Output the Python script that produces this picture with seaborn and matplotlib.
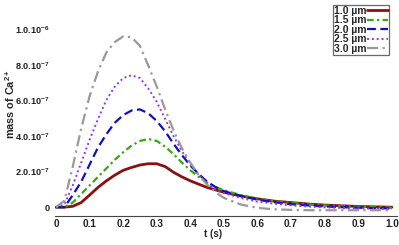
import numpy as np
import pandas as pd
import matplotlib
matplotlib.use("Agg")
import matplotlib.pyplot as plt
import seaborn as sns

# time points (s) and Ca2+ mass in units of 1e-7
t = [0, 0.025, 0.05, 0.075, 0.1, 0.125, 0.15, 0.175, 0.2, 0.225, 0.25, 0.275,
     0.3, 0.325, 0.35, 0.375, 0.4, 0.425, 0.45, 0.475, 0.5,
     0.55, 0.6, 0.65, 0.7, 0.75, 0.8, 0.85, 0.9, 0.95, 1.0]
m_10 = [0, 0, 0.05, 0.26, 0.68, 1.11, 1.48, 1.8, 2.07, 2.23, 2.37, 2.44,
        2.44, 2.28, 1.96, 1.7, 1.48, 1.29, 1.11, 0.97, 0.84,
        0.63, 0.47, 0.34, 0.26, 0.18, 0.12, 0.08, 0.04, 0.02, 0.0]
m_15 = [0, 0, 0.26, 0.74, 1.22, 1.7, 2.18, 2.66, 3.08, 3.46, 3.72, 3.83,
        3.72, 3.4, 2.98, 2.5, 2.07, 1.7, 1.38, 1.13, 0.95,
        0.68, 0.47, 0.34, 0.24, 0.16, 0.1, 0.05, 0.02, 0.0, -0.03]
m_20 = [0, 0, 0.68, 1.43, 2.39, 3.35, 4.1, 4.74, 5.17, 5.43, 5.49, 5.27,
        4.84, 4.26, 3.56, 2.92, 2.34, 1.86, 1.43, 1.13, 0.9,
        0.63, 0.42, 0.28, 0.17, 0.1, 0.04, 0.0, -0.03, -0.05, -0.07]
m_25 = [0, 0.15, 1.22, 2.5, 3.78, 4.95, 6.02, 6.77, 7.25, 7.41, 7.25, 6.66,
        5.91, 4.95, 3.99, 3.14, 2.39, 1.8, 1.32, 1.0, 0.79,
        0.52, 0.31, 0.2, 0.1, 0.04, -0.01, -0.04, -0.06, -0.08, -0.1]
m_30 = [0, 0.36, 2.28, 4.42, 6.23, 7.62, 8.69, 9.27, 9.59, 9.54, 9.06, 7.94,
        6.77, 5.49, 4.31, 3.3, 2.5, 1.8, 1.27, 0.84, 0.52,
        0.15, -0.04, -0.12, -0.15, -0.17, -0.17, -0.17, -0.17, -0.17, -0.17]

labels = ["1.0 µm", "1.5 µm", "2.0 µm", "2.5 µm", "3.0 µm"]
series = [m_10, m_15, m_20, m_25, m_30]
colors = ["#8b1010", "#33aa11", "#1010c0", "#9933ee", "#999999"]
styles = ["-", (0, (3, 1.5, 1, 1.5)), (0, (4, 2)), (0, (1, 1.5)), (0, (5, 2, 1, 2))]
widths = [2.0, 1.6, 1.6, 1.4, 1.6]

ytick_vals = [0, 2e-7, 4e-7, 6e-7, 8e-7, 1e-6]
ytick_labels = ["0", "2.0.10$^{-7}$", "4.0.10$^{-7}$", "6.0.10$^{-7}$",
                "8.0.10$^{-7}$", "1.0.10$^{-6}$"]
xticks = [0, 0.1, 0.2, 0.3, 0.4, 0.5, 0.6, 0.7, 0.8, 0.9, 1.0]

sns.set_style("white")
plt.rcParams["font.family"] = ["Liberation Sans", "DejaVu Sans"]
plt.rcParams["mathtext.fontset"] = "custom"
plt.rcParams["mathtext.bf"] = "Liberation Sans:bold"
plt.rcParams["mathtext.rm"] = "Liberation Sans:bold"
plt.rcParams["mathtext.default"] = "bf"

fig = plt.figure(figsize=(3.99, 2.45), dpi=100)
ax = fig.add_axes([0.1378, 0.118, 0.857, 0.833])

for lab, vals, c, ls, lw in zip(labels, series, colors, styles, widths):
    df = pd.DataFrame({"t": t, "m": np.array(vals) * 1e-7})
    sns.lineplot(data=df, x="t", y="m", ax=ax, color=c, linestyle=ls,
                 linewidth=lw, label=lab)

ax.set_xlim(-0.003, 1.015)
ax.set_ylim(-0.5e-7, 10.96e-7)
ax.set_xticks(xticks)
ax.set_xticklabels(["0"] + [f"{v:.1f}" for v in xticks[1:]],
                   fontsize=7.2, fontweight="bold")
ax.set_yticks(ytick_vals)
ax.set_yticklabels(ytick_labels, fontsize=6.6, fontweight="bold")
ax.tick_params(axis="x", direction="in", length=2, width=0.8, pad=2, colors="#222222")
ax.tick_params(axis="y", direction="out", length=3, width=0.8, pad=1, colors="#222222")

for s in ["top", "right", "left"]:
    ax.spines[s].set_visible(False)
ax.spines["bottom"].set_color("#444444")
ax.spines["bottom"].set_linewidth(0.8)

ax.set_xlabel("t (s)", fontsize=7, fontweight="bold")
ax.xaxis.set_label_coords(0.462, -0.064)
ax.set_ylabel("mass of Ca$^{2+}$", fontsize=7.8, fontweight="bold")
ax.yaxis.set_label_coords(-0.112, 0.55)

leg = ax.legend(loc="upper right", bbox_to_anchor=(0.977, 1.035), markerfirst=False,
                prop={"size": 7.5, "weight": "bold"}, handlelength=2.0,
                handletextpad=0.1, labelspacing=-0.05, borderpad=0.1,
                borderaxespad=0, fancybox=False, frameon=True)
leg.get_frame().set_edgecolor("#444444")
leg.get_frame().set_linewidth(0.9)

fig.savefig("out.png", dpi=100)
